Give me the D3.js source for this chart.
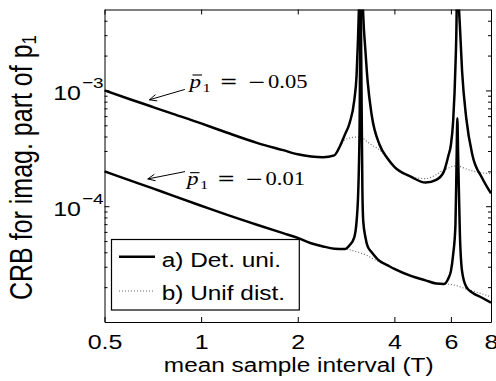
<!DOCTYPE html>
<html>
<head>
<meta charset="utf-8">
<script src="https://cdn.jsdelivr.net/npm/d3@7"></script>
<style>
  html, body { margin: 0; padding: 0; background: #fff; }
  svg { display: block; }
  text { font-family: "Liberation Sans", Arial, Helvetica, sans-serif; fill: #000; }
</style>
</head>
<body>
<svg id="chart" width="496" height="381"></svg>
<script>
// Axis ticks
const intervalTicks = [0.5, 1, 2, 4, 6, 8];
const decadeTicks = [1e-4, 1e-3];
const decadeExponents = ["\u22124", "\u22123"];
const minorTicks = [2e-5, 3e-5, 4e-5, 5e-5, 6e-5, 7e-5, 8e-5, 9e-5,
                    2e-4, 3e-4, 4e-4, 5e-4, 6e-4, 7e-4, 8e-4, 9e-4,
                    2e-3, 3e-3, 4e-3];

// CRB vs mean sample interval, pole p̄1 = −0.05
const detHigh = [
  [0.5, 1.0e-3], [0.6, 8.4e-4], [0.7, 7.26e-4], [0.8, 6.4e-4], [1.0, 5.19e-4],
  [1.2, 4.33e-4], [1.5, 3.51e-4], [1.8, 3.05e-4], [2.0, 2.81e-4], [2.2, 2.69e-4],
  [2.4, 2.65e-4], [2.6, 2.75e-4], [2.7, 3.25e-4], [2.8, 4.11e-4], [2.9, 5.21e-4],
  [3.0, 8.2e-4], [3.05, 1.35e-3], [3.08, 2.68e-3], [3.1, 4.85e-3], [3.12, 1.2e-2],
  [3.1416, 5e-2], [3.16, 1.5e-2], [3.2, 4.4e-3], [3.25, 2.2e-3], [3.3, 1.22e-3],
  [3.4, 6.1e-4], [3.6, 3.38e-4], [3.8, 2.61e-4], [4.0, 2.19e-4], [4.5, 1.8e-4],
  [5.0, 1.6e-4], [5.4, 1.69e-4], [5.7, 1.98e-4], [5.9, 2.77e-4], [6.0, 3.38e-4],
  [6.1, 5.53e-4], [6.2, 1.64e-3], [6.25, 4.4e-3], [6.283, 5e-2], [6.35, 6e-3],
  [6.4, 3.6e-3], [6.5, 1.48e-3], [6.7, 5.75e-4], [7.0, 2.77e-4], [7.5, 1.76e-4],
  [8.0, 1.29e-4]
];
const unifHigh = [
  [0.5, 1.0e-3], [0.6, 8.4e-4], [0.7, 7.26e-4], [0.8, 6.4e-4], [1.0, 5.19e-4],
  [1.2, 4.33e-4], [1.5, 3.51e-4], [1.8, 3.05e-4], [2.0, 2.81e-4], [2.2, 2.69e-4],
  [2.4, 2.65e-4], [2.6, 2.75e-4], [2.7, 3.25e-4], [2.8, 3.73e-4], [2.9, 3.88e-4],
  [3.0, 3.95e-4], [3.1416, 3.95e-4], [3.3, 3.58e-4], [3.4, 3.38e-4], [3.6, 3.06e-4],
  [3.8, 2.61e-4], [4.0, 2.19e-4], [4.5, 1.8e-4], [5.0, 1.73e-4], [5.4, 1.87e-4],
  [5.7, 2.06e-4], [5.9, 2.13e-4], [6.0, 2.19e-4], [6.283, 2.23e-4], [6.7, 2.1e-4],
  [7.0, 2.02e-4], [7.5, 1.94e-4], [8.0, 1.91e-4]
];

// CRB vs mean sample interval, pole p̄1 = −0.01
const detLow = [
  [0.5, 2.0e-4], [0.6, 1.67e-4], [0.7, 1.44e-4], [0.8, 1.26e-4], [1.0, 1.01e-4],
  [1.2, 8.45e-5], [1.5, 6.88e-5], [1.8, 5.85e-5], [2.0, 5.33e-5], [2.2, 4.79e-5],
  [2.4, 4.49e-5], [2.6, 4.3e-5], [2.8, 4.26e-5], [2.9, 4.6e-5], [3.0, 5.39e-5],
  [3.05, 7.4e-5], [3.08, 1.14e-4], [3.1, 2.06e-4], [3.12, 6.7e-4], [3.13, 3e-3],
  [3.1416, 2e-2], [3.15, 3e-3], [3.16, 1.0e-3], [3.18, 1.39e-4], [3.2, 7.4e-5],
  [3.25, 5.4e-5], [3.3, 4.52e-5], [3.4, 4.01e-5], [3.6, 3.36e-5], [3.8, 3.1e-5],
  [4.0, 2.87e-5], [4.5, 2.5e-5], [5.0, 2.29e-5], [5.4, 2.15e-5], [5.7, 2.13e-5],
  [5.9, 2.4e-5], [6.0, 2.75e-5], [6.1, 3.85e-5], [6.2, 6.97e-5], [6.25, 2.51e-4],
  [6.283, 5.75e-4], [6.32, 2.77e-4], [6.4, 5.73e-5], [6.5, 2.75e-5], [6.7, 2.01e-5],
  [7.0, 1.79e-5], [7.5, 1.62e-5], [8.0, 1.47e-5]
];
const unifLow = [
  [0.5, 2.0e-4], [0.6, 1.67e-4], [0.7, 1.44e-4], [0.8, 1.26e-4], [1.0, 1.01e-4],
  [1.2, 8.45e-5], [1.5, 6.88e-5], [1.8, 5.85e-5], [2.0, 5.33e-5], [2.2, 4.79e-5],
  [2.4, 4.49e-5], [2.6, 4.3e-5], [2.8, 4.26e-5], [2.9, 4.22e-5], [3.0, 4.09e-5],
  [3.1416, 3.94e-5], [3.3, 3.74e-5], [3.4, 3.56e-5], [3.6, 3.3e-5], [3.8, 3.1e-5],
  [4.0, 2.87e-5], [4.5, 2.5e-5], [5.0, 2.29e-5], [5.4, 2.15e-5], [5.7, 2.13e-5],
  [6.0, 2.11e-5], [6.283, 2.05e-5], [6.7, 1.93e-5], [7.0, 1.86e-5], [7.5, 1.75e-5],
  [8.0, 1.65e-5]
];

const legendLabels = ["a) Det. uni.", "b) Unif dist."];
const poleLabels = ["\u22120.05", "\u22120.01"];
// arrow tip, arrow tail and label anchor of each pole annotation (data units)
const poleTips = [[0.69, 8.3e-4], [0.682, 1.72e-4]];
const poleTails = [[0.89, 1.02e-3], [0.891, 1.99e-4]];
const poleAnchors = [[0.92, 1.06e-3], [0.904, 1.52e-4]];

const SX = 1.22; // horizontal glyph stretch of the figure text
const margin = { left: 104.5, top: 9.5 };
const width = 386.5, height = 312.5;

const svg = d3.select("#chart");
const g = svg.append("g").attr("transform", `translate(${margin.left},${margin.top})`);

const x = d3.scaleLog().domain([0.5, 8]).range([0, width]);
const y = d3.scaleLog().domain([1e-5, 5e-3]).range([height, 0]);

function stretch(sel) {
  sel.each(function () {
    const L = this.getComputedTextLength();
    this.setAttribute("textLength", (L * SX).toFixed(2));
    this.setAttribute("lengthAdjust", "spacingAndGlyphs");
  });
}

// clip region for the curves
svg.append("defs").append("clipPath").attr("id", "plotClip")
  .append("rect").attr("x", 0).attr("y", 0).attr("width", width).attr("height", height);

const line = d3.line()
  .x(d => x(d[0]))
  .y(d => y(d[1]))
  .curve(d3.curveMonotoneX);

const curves = g.append("g").attr("clip-path", "url(#plotClip)");
[unifHigh, unifLow].forEach(s => {
  curves.append("path").datum(s).attr("d", line)
    .attr("fill", "none").attr("stroke", "#666").attr("stroke-width", 1.1)
    .attr("stroke-dasharray", "1,2");
});
[detHigh, detLow].forEach(s => {
  curves.append("path").datum(s).attr("d", line)
    .attr("fill", "none").attr("stroke", "#000").attr("stroke-width", 2.5)
    .attr("stroke-linejoin", "round");
});

// axes (ticks point inward, box on all four sides)
function styleAxis(sel) {
  sel.selectAll("path.domain").attr("stroke", "#000").attr("stroke-width", 1);
  sel.selectAll(".tick line").attr("stroke", "#000").attr("stroke-width", 1);
}
const xb = g.append("g").attr("transform", `translate(0,${height})`)
  .call(d3.axisBottom(x).tickValues(intervalTicks).tickSizeInner(-5).tickSizeOuter(0)
    .tickFormat(d3.format("")));
xb.call(styleAxis);
xb.selectAll("text").attr("y", 26.8).attr("dy", null)
  .style("font-size", "20.5px").attr("fill", "#000").call(stretch);

g.append("g")
  .call(d3.axisTop(x).tickValues(intervalTicks).tickSizeInner(-5).tickSizeOuter(0).tickFormat(""))
  .call(styleAxis);

g.append("g")
  .call(d3.axisLeft(y).tickValues(decadeTicks).tickSizeInner(-5).tickSizeOuter(0).tickFormat(""))
  .call(styleAxis);
g.append("g")
  .call(d3.axisLeft(y).tickValues(minorTicks).tickSizeInner(-3).tickSizeOuter(0).tickFormat(""))
  .call(styleAxis).select("path.domain").remove();
g.append("g").attr("transform", `translate(${width},0)`)
  .call(d3.axisRight(y).tickValues(decadeTicks).tickSizeInner(-5).tickSizeOuter(0).tickFormat(""))
  .call(styleAxis);
g.append("g").attr("transform", `translate(${width},0)`)
  .call(d3.axisRight(y).tickValues(minorTicks).tickSizeInner(-3).tickSizeOuter(0).tickFormat(""))
  .call(styleAxis).select("path.domain").remove();

// decade labels 10^k
const decLabels = g.append("g");
decadeTicks.forEach((v, i) => {
  decLabels.append("text").attr("x", -23.5).attr("y", y(v) + 9.5)
    .attr("text-anchor", "end").style("font-size", "20.5px").text("10").call(stretch);
  decLabels.append("text").attr("x", -22.5).attr("y", y(v) - 2)
    .attr("text-anchor", "start").style("font-size", "15.5px").text(decadeExponents[i]).call(stretch);
});

// axis titles
svg.append("text").attr("x", margin.left + x(Math.sqrt(0.5 * 8)) + 1).attr("y", 371.5)
  .attr("text-anchor", "middle").style("font-size", "20px")
  .text("mean sample interval (T)").call(stretch);

const yt = svg.append("g").attr("transform", `translate(31.5,300) scale(${SX},1) rotate(-90)`)
  .append("text").attr("x", 0).attr("y", 0).attr("text-anchor", "start").style("font-size", "25px");
yt.append("tspan").text("CRB for imag. part of p");
yt.append("tspan").attr("dy", 4).style("font-size", "17px").text("1");

// legend
const lg = g.append("g");
const lx = 111.5 - margin.left, ly = 239.5 - margin.top;
lg.append("rect").attr("x", lx).attr("y", ly).attr("width", 187.8).attr("height", 70.5)
  .attr("fill", "#fff").attr("stroke", "#000").attr("stroke-width", 1.2);
lg.append("line").attr("x1", lx + 7.5).attr("x2", lx + 43.5).attr("y1", ly + 17.2).attr("y2", ly + 17.2)
  .attr("stroke", "#000").attr("stroke-width", 2.5);
lg.append("line").attr("x1", lx + 7.5).attr("x2", lx + 43.5).attr("y1", ly + 51.5).attr("y2", ly + 51.5)
  .attr("stroke", "#666").attr("stroke-width", 1.1).attr("stroke-dasharray", "1,2");
legendLabels.forEach((t, i) => {
  lg.append("text").attr("x", lx + 50.2).attr("y", ly + 27.2 + i * 33.3)
    .style("font-size", "20px").text(t).call(stretch);
});

// pole annotations with arrows
const ann = g.append("g");
poleLabels.forEach((lab, i) => {
  const [tx, ty] = [x(poleTips[i][0]), y(poleTips[i][1])];
  const [sx, sy] = [x(poleTails[i][0]), y(poleTails[i][1])];
  const ang = Math.atan2(ty - sy, tx - sx);
  const hl = 8, hw = 0.42;
  ann.append("path")
    .attr("d", `M${sx},${sy}L${tx},${ty}` +
      `M${tx - hl * Math.cos(ang - hw)},${ty - hl * Math.sin(ang - hw)}L${tx},${ty}` +
      `L${tx - hl * Math.cos(ang + hw)},${ty - hl * Math.sin(ang + hw)}`)
    .attr("fill", "none").attr("stroke", "#000").attr("stroke-width", 1);

  const ax = x(poleAnchors[i][0]), ay = y(poleAnchors[i][1]);
  const serif = "\"Liberation Serif\", \"Times New Roman\", serif";
  ann.append("text").attr("x", ax).attr("y", ay).style("font-family", serif)
    .style("font-style", "italic").style("font-size", "19px").text("p").call(stretch);
  ann.append("line").attr("x1", ax + 3).attr("x2", ax + 12.5).attr("y1", ay - 12.5).attr("y2", ay - 12.5)
    .attr("stroke", "#000").attr("stroke-width", 1.1);
  ann.append("text").attr("x", ax + 13).attr("y", ay + 4).style("font-family", serif)
    .style("font-size", "13.5px").text("1").call(stretch);
  ann.append("text").attr("x", ax + 30).attr("y", ay).style("font-family", "\"DejaVu Serif\", serif")
    .style("font-size", "18px").text("=").call(stretch);
  ann.append("text").attr("x", ax + 58).attr("y", ay).style("font-family", "\"DejaVu Serif\", serif")
    .style("font-size", "18px").text(lab.slice(0, 1)).call(stretch);
  ann.append("text").attr("x", ax + 78.5).attr("y", ay).style("font-family", serif)
    .style("font-size", "18.5px").text(lab.slice(1)).call(stretch);
});
</script>
</body>
</html>
